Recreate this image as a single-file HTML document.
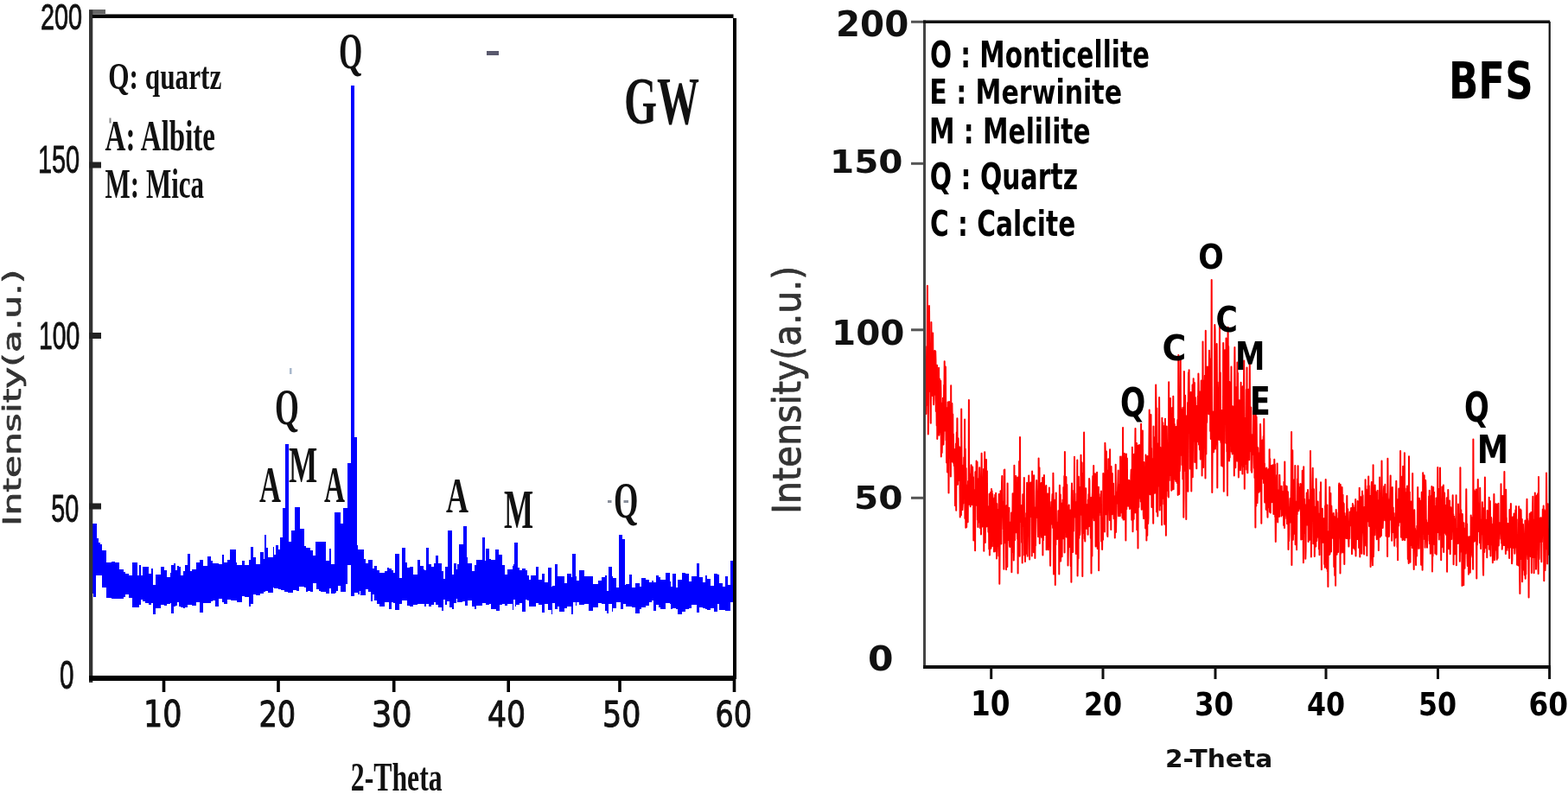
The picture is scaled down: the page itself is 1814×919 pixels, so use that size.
<!DOCTYPE html>
<html><head><meta charset="utf-8"><title>XRD patterns GW and BFS</title>
<style>html,body{margin:0;padding:0;background:#fff;width:1814px;height:919px;overflow:hidden}svg{display:block}</style></head>
<body>
<svg width="1814" height="919" viewBox="0 0 1814 919">
<rect width="1814" height="919" fill="#fff"/>
<path d="M106.5,606.0V606.0H107.0V606.0H108.0V606.0H111.0V606.0H112.0V623.3H114.0V627.8H116.0V629.7H118.0V637.1H123.0V651.2H129.0V650.0H133.0V650.7H138.0V659.2H143.0V662.4H145.0V663.9H149.0V665.5H153.0V650.9H159.0V665.9H160.5V654.4H162.5V665.6H164.5V655.5H167.5V656.4H171.5V664.1H174.5V658.4H176.5V676.6H179.5V665.1H185.5V656.1H189.5V659.7H192.5V667.6H196.5V663.2H198.0V654.0H201.0V652.2H203.0V660.0H205.0V655.3H207.0V655.6H209.0V666.2H212.0V661.0H214.0V654.3H217.0V641.0H220.0V660.7H222.0V658.7H227.0V650.7H231.0V647.5H235.0V655.2H240.0V643.7H244.0V648.6H246.0V652.2H249.0V651.8H253.0V653.2H257.0V642.4H259.0V651.0H263.0V647.7H266.0V636.0H267.0V636.0H271.0V636.0H273.0V651.0H274.0V653.8H280.0V648.5H283.0V654.0H288.0V648.3H290.0V633.1H293.0V645.3H296.0V652.5H301.0V639.3H305.0V647.2H305.5V619.0H306.5V619.0H308.0V633.9H309.5V645.2H315.5V633.3H317.0V641.8H319.0V630.7H322.0V636.0H324.0V622.0H325.0V622.0H327.0V588.0H328.0V588.0H329.0V588.0H330.0V514.0H333.0V514.0H333.5V627.0H337.0V614.0H339.0V614.0H341.0V587.0H343.0V587.0H346.0V587.0H347.0V612.0H352.0V631.9H354.0V633.6H355.5V633.9H358.5V636.5H361.5V642.9H365.0V627.0H365.5V627.0H368.5V627.0H370.5V627.0H376.5V627.0H377.0V648.5H380.5V635.2H382.5V652.8H387.0V593.0H387.5V593.0H389.0V593.0H391.0V593.0H394.0V606.0H397.0V588.0H400.0V588.0H402.0V536.0H405.0V536.0H406.0V99.0H409.0V99.0H410.0V506.0H413.0V630.6H414.0V636.0H415.5V636.0H417.0V636.0H421.0V646.8H423.0V652.4H426.0V647.9H429.0V647.6H431.0V658.3H433.0V654.9H436.0V660.3H439.0V662.5H445.0V660.8H448.0V657.3H450.0V657.7H453.0V659.5H455.0V662.5H456.5V640.6H461.5V668.5H464.5V650.8H465.0V634.0H469.0V650.8H470.5V656.5H473.5V655.8H477.5V664.6H482.5V648.4H485.5V655.2H489.5V658.8H491.0V660.3H492.5V634.4H495.5V652.9H498.5V655.8H501.5V651.5H503.5V643.4H506.5V652.4H510.5V660.6H512.5V670.1H514.5V655.9H516.5V656.0H518.0V614.0H519.5V614.0H522.5V614.0H523.0V665.0H524.5V652.0H527.5V659.0H529.0V652.6H531.0V630.0H535.0V630.0H536.0V609.0H538.0V609.0H539.5V644.9H541.0V651.5H546.0V660.9H549.0V654.4H551.0V648.2H556.0V648.3H557.5V649.0H558.0V622.0H561.0V649.0H561.5V635.4H565.5V646.9H567.5V648.4H573.0V636.0H573.5V636.0H577.0V642.4H577.5V642.0H580.5V654.3H583.5V664.8H586.5V659.2H592.5V655.3H594.0V652.5H595.0V628.0H595.5V628.0H597.0V628.0H599.0V657.3H601.0V659.6H604.0V657.9H608.0V660.4H609.5V665.9H611.5V670.5H613.5V666.4H619.5V656.0H622.5V670.8H626.5V663.6H629.5V673.5H633.5V656.5H637.5V678.7H639.0V678.2H642.0V652.7H645.0V667.1H646.5V667.3H652.5V675.2H655.5V663.8H660.5V667.8H662.0V641.0H662.5V641.0H665.5V667.3H667.0V671.5H670.0V659.5H676.0V667.1H681.0V666.8H686.0V675.8H692.0V671.6H696.0V667.5H700.0V666.0H702.0V683.5H703.5V655.6H707.5V666.9H709.0V669.1H713.0V679.5H716.0V619.0H718.0V619.0H720.0V624.0H721.0V624.0H723.0V677.1H724.0V676.2H728.0V665.3H731.0V679.6H735.0V675.2H740.0V679.3H742.0V669.4H747.0V671.2H751.0V673.7H754.0V672.4H755.5V674.2H758.5V666.3H761.5V667.8H763.5V670.7H769.5V662.8H774.5V672.8H776.0V678.7H778.0V664.0H782.0V679.5H784.0V671.4H789.0V662.7H793.0V663.5H797.0V673.0H800.0V666.8H806.0V652.4H809.0V668.2H813.0V673.6H816.0V666.4H818.0V669.5H822.0V677.9H826.0V663.6H830.0V664.7H832.0V674.8H836.0V679.3H839.0V667.3H842.0V677.1H845.0V649.0H848.0V697.2H845.0V706.9H842.0V707.0H839.0V705.7H836.0V705.6H832.0V699.1H830.0V708.4H826.0V703.5H822.0V705.9H818.0V704.6H816.0V703.5H813.0V703.0H809.0V708.8H806.0V700.3H800.0V704.4H797.0V704.9H793.0V708.4H789.0V711.2H784.0V704.5H782.0V704.1H778.0V704.7H776.0V698.6H774.5V698.1H769.5V705.3H763.5V702.6H761.5V699.5H758.5V706.7H755.5V695.1H754.0V697.3H751.0V700.5H747.0V703.1H742.0V705.0H740.0V710.4H735.0V702.9H731.0V701.7H728.0V702.2H724.0V699.3H723.0V699.3H721.0V704.6H720.0V704.6H718.0V696.7H716.0V696.7H713.0V703.6H709.0V708.3H707.5V698.9H703.5V710.1H702.0V706.7H700.0V698.8H696.0V698.0H692.0V703.0H686.0V707.4H681.0V698.5H676.0V700.2H670.0V696.9H667.0V700.5H665.5V697.1H662.5V710.9H662.0V710.9H660.5V702.3H655.5V703.9H652.5V707.8H646.5V701.7H645.0V704.7H642.0V697.9H639.0V710.6H637.5V706.0H633.5V698.5H629.5V709.2H626.5V699.7H622.5V697.9H619.5V701.6H613.5V701.5H611.5V695.4H609.5V693.6H608.0V708.3H604.0V698.4H601.0V700.2H599.0V700.2H597.0V702.4H595.5V693.8H595.0V693.8H594.0V705.6H592.5V699.1H586.5V701.1H583.5V699.0H580.5V700.0H577.5V707.1H577.0V707.1H573.5V704.9H573.0V704.9H567.5V699.1H565.5V699.7H561.5V697.8H561.0V697.8H558.0V697.8H557.5V701.1H556.0V701.4H551.0V704.7H549.0V701.5H546.0V694.6H541.0V700.7H539.5V700.7H538.0V695.6H536.0V695.6H535.0V697.0H531.0V697.0H529.0V693.0H527.5V698.2H524.5V705.4H523.0V705.4H522.5V702.8H519.5V696.1H518.0V696.1H516.5V700.3H514.5V693.6H512.5V706.7H510.5V702.6H506.5V699.7H503.5V697.1H501.5V699.8H498.5V702.1H495.5V698.5H492.5V702.2H491.0V698.9H489.5V699.4H485.5V699.2H482.5V699.9H477.5V702.2H473.5V700.6H470.5V695.1H469.0V695.1H465.0V695.1H464.5V698.6H461.5V706.2H456.5V698.3H455.0V696.8H453.0V705.2H450.0V696.7H448.0V696.9H445.0V701.5H439.0V699.3H436.0V694.8H433.0V687.8H431.0V696.4H429.0V685.3H426.0V681.7H423.0V688.6H421.0V688.6H417.0V684.2H415.5V688.4H414.0V686.3H413.0V686.3H410.0V690.0H409.0V690.0H406.0V654.0H405.0V654.0H402.0V675.7H400.0V685.1H397.0V685.1H394.0V678.2H391.0V684.2H389.0V686.2H387.5V686.7H387.0V686.7H382.5V680.6H380.5V686.7H377.0V686.7H376.5V685.2H370.5V683.7H368.5V681.8H365.5V675.2H365.0V675.2H361.5V685.0H358.5V684.1H355.5V685.0H354.0V679.5H352.0V679.4H347.0V679.4H346.0V684.3H343.0V683.2H341.0V683.2H339.0V685.7H337.0V685.7H333.5V685.7H333.0V685.0H330.0V685.0H329.0V682.8H328.0V682.8H327.0V682.8H325.0V682.0H324.0V682.0H322.0V681.4H319.0V680.6H317.0V679.6H315.5V686.0H309.5V683.8H308.0V683.8H306.5V684.8H305.5V684.8H305.0V686.6H301.0V688.6H296.0V688.3H293.0V699.4H290.0V701.5H288.0V690.8H283.0V689.7H280.0V696.7H274.0V694.8H273.0V694.8H271.0V695.3H267.0V693.9H266.0V693.9H263.0V699.3H259.0V696.6H257.0V693.2H253.0V702.2H249.0V694.6H246.0V695.9H244.0V698.3H240.0V697.6H235.0V709.4H231.0V696.7H227.0V701.2H222.0V699.9H220.0V699.9H217.0V703.2H214.0V704.2H212.0V703.4H209.0V701.8H207.0V696.9H205.0V700.6H203.0V702.1H201.0V709.9H198.0V698.2H196.5V699.2H192.5V700.6H189.5V700.2H185.5V704.4H179.5V711.4H176.5V698.4H174.5V699.7H171.5V698.1H167.5V696.4H164.5V694.2H162.5V700.2H160.5V702.6H159.0V702.9H153.0V691.8H149.0V688.3H145.0V691.2H143.0V692.9H138.0V692.7H133.0V693.3H129.0V691.7H123.0V680.4H118.0V666.0H116.0V666.0H114.0V666.0H112.0V666.0H111.0V691.3H108.0V686.7H107.0V686.7H106.5Z" fill="#0000ff" shape-rendering="crispEdges"/>
<path d="M1070.5,400.4 1070.8,460.5 1071.1,417.6 1071.4,479.1 1071.7,443.4 1072.0,434.0 1072.3,446.4 1072.6,414.3 1072.9,330.7 1073.2,468.7 1073.5,421.2 1073.8,502.5 1074.1,483.9 1074.4,451.4 1074.7,453.4 1075.0,354.0 1075.3,408.6 1075.6,402.2 1075.9,444.0 1076.2,403.0 1076.5,416.7 1076.8,489.7 1077.1,424.4 1077.4,373.0 1077.7,416.4 1078.0,425.8 1078.3,442.9 1078.6,457.1 1078.9,458.1 1079.2,385.5 1079.5,435.4 1079.8,458.3 1080.1,468.3 1080.4,462.0 1080.7,415.5 1081.0,456.7 1081.3,406.0 1081.6,444.9 1081.9,455.0 1082.2,406.6 1082.5,417.4 1082.8,475.9 1083.1,439.2 1083.4,462.9 1083.7,492.4 1084.0,422.7 1084.3,507.9 1084.6,495.1 1084.9,476.1 1085.2,448.8 1085.5,443.2 1085.8,452.5 1086.1,425.7 1086.4,503.7 1086.7,500.1 1087.0,438.4 1087.3,462.4 1087.6,470.7 1087.9,469.0 1088.2,440.7 1088.5,453.9 1088.8,528.4 1089.1,484.9 1089.4,466.6 1089.7,524.1 1090.0,509.2 1090.3,493.1 1090.6,481.2 1090.9,460.8 1091.2,505.2 1091.5,514.5 1091.8,500.5 1092.1,445.8 1092.4,458.2 1092.7,418.2 1093.0,466.1 1093.3,498.6 1093.6,478.0 1093.9,424.6 1094.2,474.6 1094.5,509.5 1094.8,486.9 1095.1,535.5 1095.4,493.3 1095.7,472.0 1096.0,546.6 1096.3,508.8 1096.6,465.6 1096.9,527.5 1097.2,515.2 1097.5,570.4 1097.8,510.6 1098.1,465.1 1098.4,512.0 1098.7,516.2 1099.0,530.0 1099.3,498.6 1099.6,505.9 1099.9,551.4 1100.2,446.3 1100.5,528.8 1100.8,525.9 1101.1,534.2 1101.4,467.0 1101.7,485.9 1102.0,517.0 1102.3,479.6 1102.6,534.9 1102.9,502.6 1103.2,535.9 1103.5,519.4 1103.8,539.1 1104.1,528.7 1104.4,538.7 1104.7,549.8 1105.0,585.3 1105.3,520.0 1105.6,528.4 1105.9,513.4 1106.2,590.7 1106.5,516.3 1106.8,500.6 1107.1,527.7 1107.4,484.3 1107.7,530.0 1108.0,560.7 1108.3,542.3 1108.6,507.6 1108.9,529.9 1109.2,555.9 1109.5,516.7 1109.8,543.9 1110.1,517.8 1110.4,555.5 1110.7,598.6 1111.0,526.4 1111.3,521.1 1111.6,529.3 1111.9,596.2 1112.2,473.5 1112.5,525.5 1112.8,552.2 1113.1,560.1 1113.4,590.1 1113.7,585.3 1114.0,564.0 1114.3,582.8 1114.6,538.6 1114.9,565.0 1115.2,529.5 1115.5,554.7 1115.8,531.9 1116.1,485.6 1116.4,600.1 1116.7,519.4 1117.0,568.2 1117.3,610.8 1117.6,541.9 1117.9,577.0 1118.2,609.9 1118.5,563.3 1118.8,595.3 1119.1,561.5 1119.4,566.9 1119.7,604.2 1120.0,557.0 1120.3,574.6 1120.6,571.5 1120.9,463.0 1121.2,583.7 1121.5,576.8 1121.8,566.3 1122.1,552.4 1122.4,555.7 1122.7,586.2 1123.0,548.8 1123.3,547.8 1123.6,538.2 1123.9,582.4 1124.2,558.5 1124.5,584.1 1124.8,540.6 1125.1,540.6 1125.4,551.7 1125.7,571.8 1126.0,552.2 1126.3,625.4 1126.6,610.2 1126.9,596.4 1127.2,619.2 1127.5,606.4 1127.8,567.0 1128.1,637.2 1128.4,546.3 1128.7,572.6 1129.0,584.8 1129.3,572.1 1129.6,533.4 1129.9,556.5 1130.2,572.5 1130.5,534.8 1130.8,601.4 1131.1,573.9 1131.4,609.9 1131.7,554.4 1132.0,573.3 1132.3,604.6 1132.6,599.1 1132.9,559.4 1133.2,541.2 1133.5,555.2 1133.8,611.1 1134.1,597.0 1134.4,590.4 1134.7,597.7 1135.0,618.5 1135.3,567.8 1135.6,524.8 1135.9,551.2 1136.2,609.6 1136.5,603.2 1136.8,579.6 1137.1,566.9 1137.4,574.4 1137.7,577.5 1138.0,543.0 1138.3,637.7 1138.6,556.9 1138.9,597.5 1139.2,523.2 1139.5,572.7 1139.8,628.0 1140.1,580.3 1140.4,557.3 1140.7,591.9 1141.0,531.9 1141.3,609.5 1141.6,607.8 1141.9,545.3 1142.2,602.9 1142.5,585.8 1142.8,588.6 1143.1,601.2 1143.4,615.8 1143.7,608.6 1144.0,602.9 1144.3,635.4 1144.6,571.7 1144.9,642.5 1145.2,624.4 1145.5,580.5 1145.8,611.0 1146.1,569.7 1146.4,634.7 1146.7,609.6 1147.0,566.1 1147.3,625.4 1147.6,568.2 1147.9,632.3 1148.2,571.7 1148.5,576.7 1148.8,620.0 1149.1,597.9 1149.4,588.4 1149.7,577.6 1150.0,638.6 1150.3,625.9 1150.6,576.3 1150.9,638.2 1151.2,572.8 1151.5,583.0 1151.8,600.7 1152.1,570.8 1152.4,586.1 1152.7,606.2 1153.0,646.4 1153.3,582.9 1153.6,603.4 1153.9,632.1 1154.2,608.5 1154.5,593.1 1154.8,589.8 1155.1,632.0 1155.4,643.5 1155.7,572.0 1156.0,596.9 1156.3,675.7 1156.6,640.4 1156.9,579.7 1157.2,616.4 1157.5,568.2 1157.8,587.8 1158.1,618.1 1158.4,629.5 1158.7,585.9 1159.0,560.1 1159.3,550.9 1159.6,598.0 1159.9,580.4 1160.2,586.1 1160.5,590.2 1160.8,612.5 1161.1,611.7 1161.4,658.7 1161.7,543.9 1162.0,611.2 1162.3,543.6 1162.6,609.4 1162.9,627.7 1163.2,608.6 1163.5,628.7 1163.8,593.4 1164.1,659.3 1164.4,585.2 1164.7,631.4 1165.0,617.1 1165.3,655.9 1165.6,559.4 1165.9,622.4 1166.2,613.9 1166.5,616.4 1166.8,612.4 1167.1,625.1 1167.4,587.7 1167.7,623.7 1168.0,631.5 1168.3,633.0 1168.6,611.6 1168.9,615.6 1169.2,610.0 1169.5,604.2 1169.8,631.0 1170.1,593.4 1170.4,662.3 1170.7,617.6 1171.0,631.3 1171.3,611.1 1171.6,571.3 1171.9,581.2 1172.2,639.0 1172.5,615.1 1172.8,648.4 1173.1,633.4 1173.4,538.7 1173.7,625.5 1174.0,625.1 1174.3,596.7 1174.6,615.2 1174.9,577.8 1175.2,551.0 1175.5,592.1 1175.8,610.6 1176.1,616.5 1176.4,591.1 1176.7,587.1 1177.0,623.7 1177.3,552.5 1177.6,663.4 1177.9,607.8 1178.2,599.4 1178.5,607.1 1178.8,634.7 1179.1,534.0 1179.4,560.4 1179.7,643.8 1180.0,506.0 1180.3,586.8 1180.6,584.8 1180.9,603.9 1181.2,596.1 1181.5,604.1 1181.8,584.9 1182.1,628.0 1182.4,597.9 1182.7,651.5 1183.0,602.7 1183.3,572.2 1183.6,590.2 1183.9,600.0 1184.2,590.9 1184.5,576.7 1184.8,553.0 1185.1,642.6 1185.4,599.6 1185.7,618.7 1186.0,649.9 1186.3,610.7 1186.6,625.7 1186.9,641.0 1187.2,594.0 1187.5,601.2 1187.8,587.8 1188.1,558.7 1188.4,601.8 1188.7,643.7 1189.0,561.0 1189.3,588.7 1189.6,603.5 1189.9,595.6 1190.2,550.6 1190.5,587.5 1190.8,620.9 1191.1,647.5 1191.4,579.3 1191.7,572.1 1192.0,564.7 1192.3,558.5 1192.6,583.1 1192.9,597.9 1193.2,592.2 1193.5,560.8 1193.8,643.4 1194.1,545.4 1194.4,584.4 1194.7,613.4 1195.0,567.2 1195.3,624.5 1195.6,575.9 1195.9,639.2 1196.2,550.2 1196.5,602.4 1196.8,630.8 1197.1,587.3 1197.4,646.0 1197.7,616.6 1198.0,631.4 1198.3,597.6 1198.6,598.7 1198.9,569.4 1199.2,556.1 1199.5,571.0 1199.8,579.9 1200.1,599.3 1200.4,591.1 1200.7,603.6 1201.0,621.2 1201.3,616.7 1201.6,530.6 1201.9,566.8 1202.2,583.5 1202.5,541.3 1202.8,628.9 1203.1,582.6 1203.4,614.5 1203.7,595.6 1204.0,594.6 1204.3,595.2 1204.6,559.0 1204.9,620.8 1205.2,622.1 1205.5,597.8 1205.8,607.2 1206.1,552.9 1206.4,642.5 1206.7,569.0 1207.0,625.2 1207.3,608.4 1207.6,592.9 1207.9,550.0 1208.2,577.1 1208.5,590.9 1208.8,619.0 1209.1,563.7 1209.4,574.0 1209.7,580.4 1210.0,605.3 1210.3,562.0 1210.6,636.3 1210.9,629.6 1211.2,598.2 1211.5,608.9 1211.8,575.7 1212.1,571.5 1212.4,599.2 1212.7,636.3 1213.0,603.5 1213.3,626.4 1213.6,610.1 1213.9,564.6 1214.2,623.3 1214.5,609.0 1214.8,638.9 1215.1,654.8 1215.4,621.7 1215.7,594.7 1216.0,588.2 1216.3,581.1 1216.6,606.4 1216.9,583.8 1217.2,578.8 1217.5,572.0 1217.8,578.5 1218.1,611.1 1218.4,547.8 1218.7,577.5 1219.0,664.5 1219.3,613.6 1219.6,588.3 1219.9,632.3 1220.2,578.7 1220.5,609.7 1220.8,676.9 1221.1,611.7 1221.4,630.4 1221.7,570.4 1222.0,608.7 1222.3,621.9 1222.6,608.0 1222.9,609.8 1223.2,623.9 1223.5,606.5 1223.8,604.6 1224.1,610.6 1224.4,591.2 1224.7,608.4 1225.0,594.9 1225.3,664.5 1225.6,598.9 1225.9,561.8 1226.2,601.7 1226.5,573.7 1226.8,572.4 1227.1,649.5 1227.4,633.5 1227.7,604.6 1228.0,638.6 1228.3,582.7 1228.6,644.2 1228.9,593.8 1229.2,604.9 1229.5,578.6 1229.8,590.8 1230.1,623.3 1230.4,564.1 1230.7,602.3 1231.0,590.4 1231.3,551.0 1231.6,639.4 1231.9,523.0 1232.2,610.0 1232.5,607.0 1232.8,603.2 1233.1,597.9 1233.4,552.0 1233.7,621.6 1234.0,603.4 1234.3,561.0 1234.6,596.3 1234.9,613.1 1235.2,601.2 1235.5,654.4 1235.8,636.6 1236.1,630.6 1236.4,587.0 1236.7,584.4 1237.0,633.0 1237.3,620.5 1237.6,604.2 1237.9,611.7 1238.2,590.4 1238.5,622.8 1238.8,655.3 1239.1,624.9 1239.4,673.8 1239.7,578.6 1240.0,559.4 1240.3,616.7 1240.6,567.8 1240.9,616.2 1241.2,638.9 1241.5,588.7 1241.8,595.5 1242.1,614.4 1242.4,582.4 1242.7,579.8 1243.0,528.8 1243.3,596.9 1243.6,571.3 1243.9,595.2 1244.2,598.9 1244.5,581.0 1244.8,641.0 1245.1,640.5 1245.4,622.0 1245.7,582.2 1246.0,599.3 1246.3,532.4 1246.6,666.5 1246.9,646.3 1247.2,555.5 1247.5,646.3 1247.8,551.8 1248.1,585.3 1248.4,622.8 1248.7,563.7 1249.0,585.0 1249.3,618.9 1249.6,612.1 1249.9,574.7 1250.2,596.1 1250.5,526.7 1250.8,564.5 1251.1,592.4 1251.4,592.5 1251.7,535.4 1252.0,586.6 1252.3,667.0 1252.6,565.7 1252.9,548.2 1253.2,617.0 1253.5,592.3 1253.8,597.2 1254.1,500.6 1254.4,563.4 1254.7,623.6 1255.0,621.2 1255.3,626.5 1255.6,566.4 1255.9,577.3 1256.2,565.2 1256.5,610.6 1256.8,599.5 1257.1,611.7 1257.4,584.2 1257.7,603.9 1258.0,596.2 1258.3,586.7 1258.6,618.8 1258.9,578.6 1259.2,589.2 1259.5,571.9 1259.8,609.3 1260.1,553.9 1260.4,556.3 1260.7,598.3 1261.0,590.1 1261.3,608.6 1261.6,598.9 1261.9,623.0 1262.2,576.1 1262.5,663.5 1262.8,612.4 1263.1,585.2 1263.4,643.6 1263.7,575.4 1264.0,569.5 1264.3,551.1 1264.6,599.2 1264.9,564.9 1265.2,539.0 1265.5,582.1 1265.8,602.2 1266.1,588.8 1266.4,587.3 1266.7,579.0 1267.0,548.2 1267.3,586.4 1267.6,632.6 1267.9,600.6 1268.2,602.7 1268.5,627.1 1268.8,570.1 1269.1,546.7 1269.4,625.6 1269.7,634.9 1270.0,615.7 1270.3,576.9 1270.6,617.7 1270.9,563.7 1271.2,660.2 1271.5,572.1 1271.8,588.5 1272.1,579.3 1272.4,593.1 1272.7,585.6 1273.0,576.0 1273.3,577.8 1273.6,596.5 1273.9,568.5 1274.2,626.5 1274.5,599.5 1274.8,602.9 1275.1,635.9 1275.4,609.9 1275.7,599.9 1276.0,624.7 1276.3,547.9 1276.6,586.0 1276.9,587.5 1277.2,586.3 1277.5,594.4 1277.8,575.6 1278.1,615.5 1278.4,512.7 1278.7,522.1 1279.0,595.5 1279.3,587.5 1279.6,564.8 1279.9,522.5 1280.2,567.0 1280.5,544.5 1280.8,577.7 1281.1,618.7 1281.4,620.9 1281.7,584.8 1282.0,573.6 1282.3,531.2 1282.6,545.6 1282.9,579.6 1283.2,558.9 1283.5,578.7 1283.8,602.1 1284.1,520.3 1284.4,574.7 1284.7,586.9 1285.0,551.7 1285.3,613.0 1285.6,539.9 1285.9,574.0 1286.2,565.9 1286.5,595.2 1286.8,547.9 1287.1,591.0 1287.4,569.6 1287.7,580.3 1288.0,559.8 1288.3,591.0 1288.6,600.2 1288.9,581.7 1289.2,574.5 1289.5,577.8 1289.8,622.6 1290.1,595.0 1290.4,599.8 1290.7,537.8 1291.0,616.1 1291.3,602.0 1291.6,593.2 1291.9,570.7 1292.2,569.6 1292.5,580.9 1292.8,582.5 1293.1,565.1 1293.4,557.6 1293.7,544.5 1294.0,597.2 1294.3,561.4 1294.6,591.2 1294.9,561.3 1295.2,593.8 1295.5,565.9 1295.8,597.2 1296.1,528.4 1296.4,547.5 1296.7,577.2 1297.0,593.3 1297.3,567.0 1297.6,562.9 1297.9,591.1 1298.2,528.2 1298.5,599.5 1298.8,558.9 1299.1,495.1 1299.4,597.0 1299.7,601.6 1300.0,560.5 1300.3,566.7 1300.6,601.2 1300.9,524.9 1301.2,556.0 1301.5,588.8 1301.8,570.1 1302.1,578.9 1302.4,625.4 1302.7,557.8 1303.0,525.4 1303.3,589.2 1303.6,536.3 1303.9,530.5 1304.2,582.4 1304.5,557.3 1304.8,555.6 1305.1,585.8 1305.4,571.1 1305.7,556.9 1306.0,575.5 1306.3,556.0 1306.6,568.4 1306.9,589.1 1307.2,573.0 1307.5,577.3 1307.8,557.3 1308.1,588.3 1308.4,551.6 1308.7,543.8 1309.0,576.7 1309.3,601.7 1309.6,594.4 1309.9,517.8 1310.2,547.5 1310.5,615.3 1310.8,599.1 1311.1,534.4 1311.4,574.7 1311.7,600.8 1312.0,525.7 1312.3,556.9 1312.6,593.2 1312.9,544.3 1313.2,528.2 1313.5,496.0 1313.8,593.2 1314.1,555.0 1314.4,570.4 1314.7,579.5 1315.0,513.1 1315.3,613.2 1315.6,565.7 1315.9,560.2 1316.2,589.2 1316.5,634.4 1316.8,515.7 1317.1,553.7 1317.4,587.0 1317.7,550.4 1318.0,514.9 1318.3,573.8 1318.6,549.8 1318.9,576.4 1319.2,554.9 1319.5,547.2 1319.8,580.4 1320.1,490.7 1320.4,568.1 1320.7,589.8 1321.0,521.0 1321.3,569.5 1321.6,561.6 1321.9,498.6 1322.2,588.8 1322.5,566.0 1322.8,595.6 1323.1,600.2 1323.4,535.0 1323.7,576.7 1324.0,580.2 1324.3,572.5 1324.6,549.6 1324.9,570.8 1325.2,611.5 1325.5,526.5 1325.8,535.5 1326.1,544.2 1326.4,625.6 1326.7,559.3 1327.0,528.4 1327.3,619.8 1327.6,528.1 1327.9,546.1 1328.2,605.9 1328.5,599.5 1328.8,539.2 1329.1,556.2 1329.4,516.0 1329.7,474.4 1330.0,570.4 1330.3,546.2 1330.6,572.2 1330.9,547.5 1331.2,565.3 1331.5,479.9 1331.8,545.2 1332.1,518.9 1332.4,586.9 1332.7,532.7 1333.0,558.0 1333.3,532.5 1333.6,531.1 1333.9,576.6 1334.2,605.7 1334.5,493.5 1334.8,552.1 1335.1,506.0 1335.4,510.2 1335.7,509.1 1336.0,570.8 1336.3,527.0 1336.6,562.2 1336.9,541.9 1337.2,445.6 1337.5,468.5 1337.8,525.9 1338.1,592.4 1338.4,472.5 1338.7,550.2 1339.0,528.8 1339.3,597.5 1339.6,513.8 1339.9,562.4 1340.2,518.5 1340.5,555.6 1340.8,552.5 1341.1,459.9 1341.4,510.4 1341.7,590.6 1342.0,526.2 1342.3,517.8 1342.6,539.1 1342.9,549.6 1343.2,584.9 1343.5,530.8 1343.8,548.8 1344.1,607.4 1344.4,483.7 1344.7,583.5 1345.0,549.1 1345.3,489.2 1345.6,553.2 1345.9,576.8 1346.2,507.7 1346.5,493.3 1346.8,493.3 1347.1,606.7 1347.4,590.4 1347.7,580.5 1348.0,484.7 1348.3,558.3 1348.6,502.4 1348.9,619.8 1349.2,561.6 1349.5,574.5 1349.8,493.5 1350.1,518.5 1350.4,525.1 1350.7,547.4 1351.0,567.8 1351.3,547.6 1351.6,554.4 1351.9,575.4 1352.2,442.2 1352.5,546.1 1352.8,556.1 1353.1,538.3 1353.4,532.8 1353.7,476.6 1354.0,461.1 1354.3,549.9 1354.6,537.5 1354.9,514.7 1355.2,567.8 1355.5,501.3 1355.8,566.9 1356.1,471.9 1356.4,528.4 1356.7,504.5 1357.0,496.9 1357.3,458.8 1357.6,566.2 1357.9,539.1 1358.2,484.7 1358.5,538.9 1358.8,491.1 1359.1,519.3 1359.4,538.3 1359.7,555.1 1360.0,501.2 1360.3,556.9 1360.6,494.1 1360.9,494.1 1361.2,503.5 1361.5,513.8 1361.8,559.0 1362.1,495.2 1362.4,486.1 1362.7,572.9 1363.0,523.1 1363.3,410.9 1363.6,522.1 1363.9,502.4 1364.2,571.9 1364.5,501.6 1364.8,545.1 1365.1,539.7 1365.4,455.9 1365.7,415.5 1366.0,495.2 1366.3,526.7 1366.6,471.7 1366.9,524.4 1367.2,473.7 1367.5,538.1 1367.8,480.2 1368.1,508.9 1368.4,554.6 1368.7,477.2 1369.0,471.5 1369.3,598.8 1369.6,576.1 1369.9,429.9 1370.2,490.3 1370.5,482.2 1370.8,472.1 1371.1,457.8 1371.4,515.4 1371.7,545.4 1372.0,534.0 1372.3,601.1 1372.6,481.4 1372.9,511.4 1373.2,500.0 1373.5,512.7 1373.8,535.3 1374.1,466.0 1374.4,568.8 1374.7,468.8 1375.0,431.2 1375.3,460.9 1375.6,428.3 1375.9,472.1 1376.2,500.2 1376.5,466.5 1376.8,542.6 1377.1,462.3 1377.4,501.2 1377.7,454.0 1378.0,527.1 1378.3,568.6 1378.6,489.0 1378.9,492.4 1379.2,537.6 1379.5,445.6 1379.8,552.2 1380.1,501.2 1380.4,507.1 1380.7,438.2 1381.0,510.6 1381.3,463.3 1381.6,501.9 1381.9,443.0 1382.2,535.1 1382.5,499.1 1382.8,459.9 1383.1,480.0 1383.4,470.7 1383.7,529.1 1384.0,527.7 1384.3,542.3 1384.6,469.8 1384.9,484.1 1385.2,511.2 1385.5,472.2 1385.8,458.8 1386.1,474.6 1386.4,432.6 1386.7,445.8 1387.0,514.5 1387.3,483.2 1387.6,459.5 1387.9,520.5 1388.2,453.4 1388.5,497.4 1388.8,531.6 1389.1,505.4 1389.4,466.6 1389.7,440.4 1390.0,467.9 1390.3,448.3 1390.6,550.4 1390.9,489.0 1391.2,515.3 1391.5,395.6 1391.8,470.0 1392.1,540.9 1392.4,440.4 1392.7,475.5 1393.0,469.4 1393.3,492.0 1393.6,464.6 1393.9,434.8 1394.2,522.8 1394.5,553.4 1394.8,382.7 1395.1,487.2 1395.4,525.6 1395.7,465.7 1396.0,489.4 1396.3,487.5 1396.6,429.1 1396.9,424.5 1397.2,441.1 1397.5,464.3 1397.8,470.8 1398.1,455.7 1398.4,479.3 1398.7,434.3 1399.0,405.7 1399.3,431.5 1399.6,415.2 1399.9,423.2 1400.2,498.9 1400.5,458.7 1400.8,508.1 1401.1,484.9 1401.4,420.9 1401.7,324.0 1402.0,486.5 1402.3,570.0 1402.6,528.1 1402.9,481.3 1403.2,477.7 1403.5,480.3 1403.8,476.4 1404.1,523.2 1404.4,503.3 1404.7,487.5 1405.0,442.6 1405.3,375.9 1405.6,381.8 1405.9,519.6 1406.2,513.3 1406.5,416.7 1406.8,451.9 1407.1,478.8 1407.4,490.7 1407.7,397.9 1408.0,459.5 1408.3,564.4 1408.6,442.4 1408.9,453.0 1409.2,466.7 1409.5,465.2 1409.8,478.6 1410.1,488.0 1410.4,508.9 1410.7,480.9 1411.0,372.8 1411.3,477.4 1411.6,475.9 1411.9,431.3 1412.2,509.7 1412.5,512.1 1412.8,481.5 1413.1,538.9 1413.4,494.3 1413.7,474.9 1414.0,498.0 1414.3,532.9 1414.6,539.7 1414.9,509.9 1415.2,397.0 1415.5,462.2 1415.8,568.7 1416.1,491.8 1416.4,452.4 1416.7,432.3 1417.0,405.3 1417.3,426.4 1417.6,490.3 1417.9,432.2 1418.2,512.7 1418.5,391.4 1418.8,428.2 1419.1,445.7 1419.4,522.8 1419.7,514.0 1420.0,573.5 1420.3,475.8 1420.6,378.7 1420.9,462.9 1421.2,401.1 1421.5,463.0 1421.8,471.4 1422.1,533.4 1422.4,442.0 1422.7,529.5 1423.0,464.8 1423.3,469.3 1423.6,447.9 1423.9,458.7 1424.2,484.1 1424.5,424.6 1424.8,522.7 1425.1,469.7 1425.4,481.8 1425.7,525.5 1426.0,524.0 1426.3,470.5 1426.6,489.2 1426.9,508.6 1427.2,498.7 1427.5,488.9 1427.8,550.5 1428.1,446.1 1428.4,402.0 1428.7,437.5 1429.0,487.9 1429.3,541.2 1429.6,479.7 1429.9,475.7 1430.2,491.9 1430.5,448.0 1430.8,497.1 1431.1,533.4 1431.4,419.6 1431.7,481.9 1432.0,431.7 1432.3,471.5 1432.6,490.0 1432.9,552.5 1433.2,508.8 1433.5,508.0 1433.8,463.3 1434.1,503.3 1434.4,468.1 1434.7,498.3 1435.0,544.2 1435.3,536.6 1435.6,442.8 1435.9,494.3 1436.2,512.9 1436.5,511.7 1436.8,475.8 1437.1,532.5 1437.4,548.6 1437.7,447.3 1438.0,540.0 1438.3,505.7 1438.6,489.5 1438.9,460.8 1439.2,417.6 1439.5,480.1 1439.8,565.7 1440.1,504.6 1440.4,535.9 1440.7,537.1 1441.0,483.7 1441.3,520.7 1441.6,533.6 1441.9,451.1 1442.2,543.4 1442.5,425.5 1442.8,537.4 1443.1,547.1 1443.4,547.3 1443.7,515.8 1444.0,465.2 1444.3,450.7 1444.6,514.1 1444.9,529.4 1445.2,532.3 1445.5,495.5 1445.8,419.0 1446.1,493.1 1446.4,522.2 1446.7,518.6 1447.0,495.6 1447.3,471.5 1447.6,544.8 1447.9,502.7 1448.2,546.8 1448.5,534.7 1448.8,504.5 1449.1,514.8 1449.4,507.1 1449.7,526.0 1450.0,497.0 1450.3,476.1 1450.6,482.2 1450.9,541.7 1451.2,487.6 1451.5,553.1 1451.8,487.1 1452.1,550.0 1452.4,610.4 1452.7,467.1 1453.0,500.2 1453.3,585.6 1453.6,482.5 1453.9,513.8 1454.2,524.0 1454.5,582.1 1454.8,572.7 1455.1,529.4 1455.4,518.3 1455.7,540.8 1456.0,524.3 1456.3,557.8 1456.6,569.7 1456.9,568.5 1457.2,554.3 1457.5,568.0 1457.8,523.0 1458.1,491.1 1458.4,505.6 1458.7,515.3 1459.0,546.7 1459.3,605.7 1459.6,527.9 1459.9,537.0 1460.2,515.1 1460.5,509.5 1460.8,553.8 1461.1,548.9 1461.4,554.2 1461.7,505.2 1462.0,559.1 1462.3,485.0 1462.6,549.4 1462.9,536.4 1463.2,581.5 1463.5,542.2 1463.8,547.2 1464.1,579.6 1464.4,545.1 1464.7,589.8 1465.0,558.9 1465.3,541.5 1465.6,548.5 1465.9,570.3 1466.2,591.2 1466.5,598.8 1466.8,565.2 1467.1,569.5 1467.4,543.3 1467.7,551.7 1468.0,586.5 1468.3,587.6 1468.6,520.3 1468.9,592.4 1469.2,530.9 1469.5,555.7 1469.8,593.5 1470.1,546.5 1470.4,580.8 1470.7,549.0 1471.0,539.1 1471.3,581.3 1471.6,560.3 1471.9,566.4 1472.2,581.1 1472.5,538.2 1472.8,567.6 1473.1,568.6 1473.4,594.9 1473.7,546.0 1474.0,576.2 1474.3,531.7 1474.6,584.6 1474.9,537.4 1475.2,598.2 1475.5,598.0 1475.8,626.9 1476.1,598.0 1476.4,578.4 1476.7,601.0 1477.0,550.0 1477.3,586.9 1477.6,536.4 1477.9,581.1 1478.2,604.4 1478.5,578.8 1478.8,579.7 1479.1,568.0 1479.4,567.3 1479.7,597.0 1480.0,598.0 1480.3,549.7 1480.6,562.2 1480.9,580.0 1481.2,589.2 1481.5,584.1 1481.8,563.3 1482.1,579.9 1482.4,597.6 1482.7,562.8 1483.0,579.9 1483.3,596.0 1483.6,578.0 1483.9,569.1 1484.2,593.9 1484.5,579.3 1484.8,569.4 1485.1,608.1 1485.4,557.8 1485.7,591.8 1486.0,611.1 1486.3,534.6 1486.6,600.1 1486.9,596.4 1487.2,571.6 1487.5,562.4 1487.8,582.5 1488.1,588.4 1488.4,583.2 1488.7,563.0 1489.0,606.2 1489.3,592.3 1489.6,603.0 1489.9,569.3 1490.2,579.0 1490.5,635.9 1490.8,595.3 1491.1,626.3 1491.4,618.4 1491.7,592.4 1492.0,588.0 1492.3,586.5 1492.6,576.9 1492.9,604.5 1493.2,602.5 1493.5,581.7 1493.8,558.7 1494.1,500.0 1494.4,654.0 1494.7,594.5 1495.0,575.4 1495.3,521.2 1495.6,573.6 1495.9,624.8 1496.2,608.2 1496.5,613.9 1496.8,555.6 1497.1,595.5 1497.4,617.7 1497.7,564.0 1498.0,614.6 1498.3,539.1 1498.6,630.2 1498.9,602.9 1499.2,580.5 1499.5,626.6 1499.8,598.8 1500.1,636.2 1500.4,580.5 1500.7,595.2 1501.0,554.5 1501.3,577.7 1501.6,539.2 1501.9,591.3 1502.2,560.1 1502.5,591.2 1502.8,567.6 1503.1,576.1 1503.4,580.0 1503.7,563.9 1504.0,588.7 1504.3,582.5 1504.6,559.9 1504.9,575.4 1505.2,624.4 1505.5,575.1 1505.8,568.5 1506.1,623.9 1506.4,615.2 1506.7,544.8 1507.0,623.3 1507.3,575.7 1507.6,612.5 1507.9,651.2 1508.2,540.3 1508.5,594.9 1508.8,615.5 1509.1,577.8 1509.4,617.0 1509.7,611.1 1510.0,602.4 1510.3,646.7 1510.6,636.8 1510.9,584.2 1511.2,591.9 1511.5,588.8 1511.8,570.4 1512.1,607.6 1512.4,576.7 1512.7,606.5 1513.0,567.0 1513.3,576.9 1513.6,626.9 1513.9,578.5 1514.2,615.8 1514.5,579.1 1514.8,625.0 1515.1,583.3 1515.4,599.0 1515.7,590.8 1516.0,522.0 1516.3,585.3 1516.6,590.8 1516.9,644.5 1517.2,588.1 1517.5,567.0 1517.8,568.9 1518.1,583.9 1518.4,559.4 1518.7,541.7 1519.0,586.0 1519.3,629.3 1519.6,626.1 1519.9,566.3 1520.2,616.9 1520.5,590.4 1520.8,643.9 1521.1,620.6 1521.4,624.6 1521.7,586.6 1522.0,624.6 1522.3,632.5 1522.6,554.3 1522.9,579.7 1523.2,626.0 1523.5,614.6 1523.8,622.4 1524.1,599.9 1524.4,607.7 1524.7,580.5 1525.0,603.8 1525.3,604.4 1525.6,594.6 1525.9,635.5 1526.2,609.0 1526.5,642.3 1526.8,601.4 1527.1,614.8 1527.4,569.2 1527.7,591.1 1528.0,558.3 1528.3,612.0 1528.6,615.4 1528.9,659.3 1529.2,600.0 1529.5,614.1 1529.8,588.7 1530.1,603.1 1530.4,611.6 1530.7,627.7 1531.0,614.4 1531.3,612.7 1531.6,600.4 1531.9,600.0 1532.2,652.9 1532.5,605.2 1532.8,656.7 1533.1,585.4 1533.4,592.0 1533.7,555.0 1534.0,598.9 1534.3,606.8 1534.6,623.0 1534.9,658.0 1535.2,636.6 1535.5,584.5 1535.8,661.2 1536.1,643.5 1536.4,679.0 1536.7,615.6 1537.0,618.8 1537.3,616.9 1537.6,624.4 1537.9,642.0 1538.2,563.7 1538.5,641.2 1538.8,589.4 1539.1,619.5 1539.4,570.9 1539.7,620.5 1540.0,638.5 1540.3,585.5 1540.6,593.3 1540.9,611.9 1541.2,621.7 1541.5,596.3 1541.8,611.5 1542.1,623.0 1542.4,610.1 1542.7,593.9 1543.0,609.9 1543.3,655.9 1543.6,615.1 1543.9,598.3 1544.2,666.0 1544.5,615.7 1544.8,614.0 1545.1,677.8 1545.4,598.9 1545.7,590.1 1546.0,637.5 1546.3,593.5 1546.6,641.8 1546.9,635.7 1547.2,600.3 1547.5,607.9 1547.8,620.8 1548.1,639.0 1548.4,612.3 1548.7,616.2 1549.0,561.8 1549.3,559.4 1549.6,622.6 1549.9,579.8 1550.2,577.9 1550.5,663.6 1550.8,561.0 1551.1,640.8 1551.4,627.0 1551.7,608.9 1552.0,633.4 1552.3,594.6 1552.6,564.0 1552.9,581.7 1553.2,639.6 1553.5,572.7 1553.8,637.8 1554.1,581.9 1554.4,602.9 1554.7,583.1 1555.0,620.5 1555.3,653.0 1555.6,593.9 1555.9,610.0 1556.2,600.8 1556.5,619.4 1556.8,616.8 1557.1,597.7 1557.4,622.9 1557.7,597.4 1558.0,596.5 1558.3,574.0 1558.6,606.9 1558.9,623.2 1559.2,589.2 1559.5,604.5 1559.8,610.2 1560.1,625.4 1560.4,632.6 1560.7,612.9 1561.0,613.6 1561.3,623.3 1561.6,592.5 1561.9,599.8 1562.2,600.8 1562.5,595.3 1562.8,600.3 1563.1,588.1 1563.4,608.8 1563.7,593.3 1564.0,641.3 1564.3,595.3 1564.6,635.1 1564.9,583.0 1565.2,634.0 1565.5,584.7 1565.8,596.8 1566.1,630.4 1566.4,587.4 1566.7,619.7 1567.0,634.9 1567.3,591.1 1567.6,605.6 1567.9,636.7 1568.2,578.1 1568.5,643.4 1568.8,627.0 1569.1,602.0 1569.4,593.3 1569.7,615.1 1570.0,613.8 1570.3,623.9 1570.6,580.0 1570.9,589.3 1571.2,613.9 1571.5,612.8 1571.8,595.5 1572.1,634.1 1572.4,621.1 1572.7,564.7 1573.0,627.1 1573.3,644.6 1573.6,580.2 1573.9,574.9 1574.2,580.1 1574.5,595.5 1574.8,587.0 1575.1,618.4 1575.4,640.8 1575.7,605.8 1576.0,568.6 1576.3,585.2 1576.6,573.3 1576.9,616.3 1577.2,597.6 1577.5,611.7 1577.8,621.4 1578.1,641.6 1578.4,586.9 1578.7,596.7 1579.0,616.8 1579.3,616.3 1579.6,555.3 1579.9,588.0 1580.2,631.4 1580.5,566.4 1580.8,590.4 1581.1,587.4 1581.4,643.1 1581.7,576.8 1582.0,594.2 1582.3,597.6 1582.6,562.4 1582.9,576.4 1583.2,551.5 1583.5,603.7 1583.8,562.2 1584.1,609.1 1584.4,605.6 1584.7,605.6 1585.0,597.8 1585.3,573.9 1585.6,656.1 1585.9,620.3 1586.2,591.4 1586.5,566.5 1586.8,558.0 1587.1,579.7 1587.4,586.4 1587.7,647.4 1588.0,654.2 1588.3,614.9 1588.6,538.2 1588.9,644.1 1589.2,632.4 1589.5,575.6 1589.8,591.9 1590.1,594.0 1590.4,619.2 1590.7,561.4 1591.0,579.0 1591.3,583.3 1591.6,569.0 1591.9,577.3 1592.2,589.9 1592.5,616.6 1592.8,624.2 1593.1,588.9 1593.4,591.4 1593.7,567.7 1594.0,612.0 1594.3,614.1 1594.6,579.1 1594.9,636.9 1595.2,607.7 1595.5,593.8 1595.8,614.9 1596.1,552.4 1596.4,583.4 1596.7,621.6 1597.0,612.5 1597.3,581.7 1597.6,574.3 1597.9,619.9 1598.2,586.8 1598.5,533.4 1598.8,577.1 1599.1,610.2 1599.4,607.3 1599.7,610.9 1600.0,602.7 1600.3,579.6 1600.6,592.9 1600.9,567.4 1601.2,562.9 1601.5,563.1 1601.8,592.5 1602.1,602.3 1602.4,560.7 1602.7,601.2 1603.0,579.4 1603.3,571.4 1603.6,620.5 1603.9,610.0 1604.2,591.6 1604.5,572.9 1604.8,587.1 1605.1,644.1 1605.4,530.8 1605.7,575.3 1606.0,578.8 1606.3,604.7 1606.6,590.1 1606.9,620.9 1607.2,615.1 1607.5,592.1 1607.8,578.2 1608.1,578.7 1608.4,566.3 1608.7,550.6 1609.0,601.6 1609.3,576.4 1609.6,571.9 1609.9,592.9 1610.2,625.7 1610.5,611.6 1610.8,563.9 1611.1,600.9 1611.4,610.2 1611.7,587.6 1612.0,615.9 1612.3,602.0 1612.6,594.1 1612.9,613.9 1613.2,631.7 1613.5,605.4 1613.8,601.0 1614.1,599.1 1614.4,622.4 1614.7,614.8 1615.0,572.2 1615.3,556.7 1615.6,580.6 1615.9,586.3 1616.2,589.6 1616.5,632.9 1616.8,593.7 1617.1,648.3 1617.4,578.1 1617.7,602.1 1618.0,608.4 1618.3,565.5 1618.6,580.8 1618.9,604.5 1619.2,593.2 1619.5,573.7 1619.8,579.5 1620.1,522.0 1620.4,604.1 1620.7,601.4 1621.0,621.7 1621.3,598.0 1621.6,571.5 1621.9,591.7 1622.2,551.5 1622.5,625.1 1622.8,617.8 1623.1,539.8 1623.4,624.2 1623.7,584.5 1624.0,600.8 1624.3,584.2 1624.6,597.9 1624.9,524.2 1625.2,625.3 1625.5,620.5 1625.8,607.4 1626.1,570.4 1626.4,620.3 1626.7,595.2 1627.0,622.1 1627.3,565.6 1627.6,582.1 1627.9,562.4 1628.2,616.5 1628.5,613.5 1628.8,647.1 1629.1,627.6 1629.4,645.3 1629.7,651.9 1630.0,528.3 1630.3,635.7 1630.6,599.3 1630.9,569.6 1631.2,642.9 1631.5,650.7 1631.8,593.1 1632.1,608.0 1632.4,630.9 1632.7,580.5 1633.0,591.2 1633.3,588.3 1633.6,595.7 1633.9,633.9 1634.2,548.0 1634.5,619.9 1634.8,594.0 1635.1,598.5 1635.4,633.9 1635.7,659.1 1636.0,605.1 1636.3,590.2 1636.6,614.2 1636.9,611.4 1637.2,613.4 1637.5,619.5 1637.8,635.0 1638.1,653.9 1638.4,617.9 1638.7,641.7 1639.0,643.5 1639.3,608.8 1639.6,635.4 1639.9,597.7 1640.2,564.0 1640.5,597.9 1640.8,612.2 1641.1,601.8 1641.4,613.1 1641.7,634.7 1642.0,576.7 1642.3,619.3 1642.6,610.5 1642.9,609.2 1643.2,579.8 1643.5,586.1 1643.8,625.8 1644.1,653.8 1644.4,632.0 1644.7,569.7 1645.0,625.5 1645.3,605.9 1645.6,659.8 1645.9,631.9 1646.2,547.2 1646.5,600.5 1646.8,618.1 1647.1,567.5 1647.4,609.7 1647.7,550.3 1648.0,624.3 1648.3,609.3 1648.6,633.8 1648.9,623.6 1649.2,556.1 1649.5,567.7 1649.8,609.0 1650.1,602.0 1650.4,625.3 1650.7,615.2 1651.0,633.8 1651.3,626.4 1651.6,625.6 1651.9,605.1 1652.2,617.3 1652.5,607.6 1652.8,598.1 1653.1,574.6 1653.4,618.1 1653.7,567.8 1654.0,629.2 1654.3,594.2 1654.6,622.9 1654.9,640.8 1655.2,629.6 1655.5,611.3 1655.8,573.7 1656.1,581.7 1656.4,563.0 1656.7,569.0 1657.0,661.5 1657.3,636.0 1657.6,643.7 1657.9,576.7 1658.2,564.1 1658.5,620.8 1658.8,626.1 1659.1,569.7 1659.4,629.9 1659.7,607.2 1660.0,585.8 1660.3,640.6 1660.6,620.8 1660.9,587.6 1661.2,630.1 1661.5,576.6 1661.8,641.7 1662.1,615.2 1662.4,606.5 1662.7,611.0 1663.0,590.8 1663.3,541.1 1663.6,602.3 1663.9,616.2 1664.2,565.8 1664.5,587.7 1664.8,624.5 1665.1,598.4 1665.4,578.6 1665.7,618.9 1666.0,541.6 1666.3,581.4 1666.6,580.7 1666.9,588.3 1667.2,648.2 1667.5,588.2 1667.8,622.7 1668.1,600.4 1668.4,563.4 1668.7,619.4 1669.0,603.7 1669.3,633.5 1669.6,602.8 1669.9,561.5 1670.2,638.9 1670.5,590.6 1670.8,596.0 1671.1,570.5 1671.4,610.5 1671.7,613.2 1672.0,616.7 1672.3,585.0 1672.6,597.8 1672.9,618.8 1673.2,613.6 1673.5,611.0 1673.8,576.3 1674.1,661.7 1674.4,585.5 1674.7,611.8 1675.0,621.7 1675.3,566.9 1675.6,583.8 1675.9,617.3 1676.2,635.3 1676.5,627.6 1676.8,632.5 1677.1,579.5 1677.4,622.0 1677.7,641.2 1678.0,623.3 1678.3,587.2 1678.6,618.4 1678.9,608.7 1679.2,624.0 1679.5,609.0 1679.8,615.0 1680.1,593.4 1680.4,586.3 1680.7,573.3 1681.0,606.9 1681.3,595.2 1681.6,653.3 1681.9,616.2 1682.2,597.8 1682.5,628.0 1682.8,612.5 1683.1,618.2 1683.4,641.2 1683.7,600.7 1684.0,602.7 1684.3,628.9 1684.6,573.3 1684.9,654.3 1685.2,611.9 1685.5,623.0 1685.8,624.0 1686.1,614.1 1686.4,617.1 1686.7,629.0 1687.0,583.5 1687.3,610.0 1687.6,614.6 1687.9,595.6 1688.2,624.2 1688.5,595.2 1688.8,649.7 1689.1,625.9 1689.4,541.3 1689.7,623.8 1690.0,624.1 1690.3,590.2 1690.6,638.4 1690.9,637.8 1691.2,617.4 1691.5,678.0 1691.8,594.9 1692.1,608.2 1692.4,630.1 1692.7,625.7 1693.0,655.7 1693.3,677.2 1693.6,605.3 1693.9,636.3 1694.2,611.5 1694.5,657.7 1694.8,636.4 1695.1,621.5 1695.4,640.7 1695.7,621.9 1696.0,611.8 1696.3,566.2 1696.6,608.2 1696.9,630.3 1697.2,606.6 1697.5,645.5 1697.8,655.0 1698.1,638.5 1698.4,642.9 1698.7,621.6 1699.0,664.7 1699.3,627.0 1699.6,621.8 1699.9,630.5 1700.2,622.1 1700.5,620.9 1700.8,662.8 1701.1,638.6 1701.4,643.0 1701.7,596.4 1702.0,626.6 1702.3,605.9 1702.6,599.0 1702.9,605.9 1703.2,623.8 1703.5,644.7 1703.8,628.4 1704.1,658.8 1704.4,508.5 1704.7,609.5 1705.0,605.4 1705.3,567.3 1705.6,626.8 1705.9,611.4 1706.2,626.0 1706.5,568.9 1706.8,619.7 1707.1,623.7 1707.4,588.1 1707.7,566.5 1708.0,619.1 1708.3,669.5 1708.6,578.9 1708.9,630.7 1709.2,611.6 1709.5,591.5 1709.8,555.1 1710.1,599.5 1710.4,615.1 1710.7,613.3 1711.0,606.4 1711.3,583.3 1711.6,602.5 1711.9,628.2 1712.2,564.8 1712.5,586.1 1712.8,627.8 1713.1,635.0 1713.4,617.3 1713.7,615.3 1714.0,601.5 1714.3,602.3 1714.6,618.2 1714.9,581.3 1715.2,596.0 1715.5,620.6 1715.8,656.0 1716.1,665.8 1716.4,628.4 1716.7,588.2 1717.0,623.2 1717.3,639.0 1717.6,616.7 1717.9,552.5 1718.2,634.3 1718.5,633.6 1718.8,619.5 1719.1,610.3 1719.4,616.4 1719.7,620.6 1720.0,601.5 1720.3,645.2 1720.6,591.0 1720.9,628.9 1721.2,620.2 1721.5,630.1 1721.8,625.8 1722.1,603.6 1722.4,610.0 1722.7,575.7 1723.0,635.8 1723.3,605.5 1723.6,592.9 1723.9,580.0 1724.2,610.3 1724.5,643.6 1724.8,621.9 1725.1,598.9 1725.4,618.9 1725.7,630.2 1726.0,606.7 1726.3,630.0 1726.6,611.1 1726.9,651.2 1727.2,629.0 1727.5,612.1 1727.8,600.5 1728.1,598.5 1728.4,572.0 1728.7,591.7 1729.0,648.3 1729.3,614.7 1729.6,636.8 1729.9,601.9 1730.2,635.4 1730.5,583.3 1730.8,610.4 1731.1,592.3 1731.4,636.7 1731.7,647.7 1732.0,583.7 1732.3,584.6 1732.6,646.0 1732.9,592.4 1733.2,594.5 1733.5,582.7 1733.8,631.5 1734.1,625.3 1734.4,614.9 1734.7,623.7 1735.0,614.0 1735.3,604.9 1735.6,606.7 1735.9,605.0 1736.2,611.7 1736.5,560.2 1736.8,613.3 1737.1,628.8 1737.4,588.7 1737.7,635.7 1738.0,633.2 1738.3,574.0 1738.6,613.0 1738.9,583.2 1739.2,614.9 1739.5,603.6 1739.8,631.1 1740.1,578.7 1740.4,545.9 1740.7,631.0 1741.0,592.7 1741.3,600.7 1741.6,616.8 1741.9,641.0 1742.2,566.7 1742.5,598.4 1742.8,599.9 1743.1,636.8 1743.4,607.3 1743.7,627.9 1744.0,619.5 1744.3,633.5 1744.6,605.9 1744.9,613.0 1745.2,629.5 1745.5,637.4 1745.8,608.9 1746.1,646.0 1746.4,589.9 1746.7,598.2 1747.0,633.7 1747.3,632.4 1747.6,595.1 1747.9,582.9 1748.2,628.3 1748.5,621.9 1748.8,600.7 1749.1,652.2 1749.4,647.8 1749.7,600.4 1750.0,598.5 1750.3,634.3 1750.6,629.6 1750.9,625.8 1751.2,611.6 1751.5,594.5 1751.8,604.7 1752.1,630.9 1752.4,640.8 1752.7,635.2 1753.0,633.6 1753.3,590.5 1753.6,605.7 1753.9,586.0 1754.2,603.1 1754.5,624.6 1754.8,601.2 1755.1,653.8 1755.4,632.3 1755.7,620.6 1756.0,634.8 1756.3,642.7 1756.6,654.5 1756.9,620.5 1757.2,586.2 1757.5,642.5 1757.8,602.4 1758.1,662.0 1758.4,687.0 1758.7,651.6 1759.0,589.6 1759.3,611.5 1759.6,590.6 1759.9,605.4 1760.2,646.9 1760.5,646.7 1760.8,601.1 1761.1,673.3 1761.4,645.5 1761.7,615.1 1762.0,607.1 1762.3,619.8 1762.6,643.5 1762.9,656.4 1763.2,660.0 1763.5,644.4 1763.8,665.4 1764.1,632.6 1764.4,602.5 1764.7,669.8 1765.0,632.5 1765.3,664.4 1765.6,605.4 1765.9,637.2 1766.2,602.4 1766.5,577.8 1766.8,610.6 1767.1,600.8 1767.4,641.7 1767.7,647.1 1768.0,635.9 1768.3,627.3 1768.6,691.6 1768.9,620.9 1769.2,602.8 1769.5,607.6 1769.8,594.6 1770.1,630.0 1770.4,615.5 1770.7,643.9 1771.0,634.9 1771.3,593.1 1771.6,624.9 1771.9,662.9 1772.2,607.8 1772.5,621.4 1772.8,644.9 1773.1,587.2 1773.4,574.7 1773.7,631.1 1774.0,611.4 1774.3,601.5 1774.6,663.3 1774.9,616.0 1775.2,642.3 1775.5,642.3 1775.8,570.5 1776.1,644.9 1776.4,594.4 1776.7,583.6 1777.0,658.7 1777.3,641.0 1777.6,587.5 1777.9,573.4 1778.2,618.6 1778.5,631.1 1778.8,597.4 1779.1,571.3 1779.4,656.5 1779.7,664.1 1780.0,552.0 1780.3,635.2 1780.6,646.9 1780.9,627.9 1781.2,627.3 1781.5,609.9 1781.8,599.7 1782.1,603.6 1782.4,624.8 1782.7,599.2 1783.0,603.3 1783.3,650.2 1783.6,612.1 1783.9,627.3 1784.2,612.8 1784.5,619.1 1784.8,589.4 1785.1,600.8 1785.4,619.0 1785.7,585.4 1786.0,613.8 1786.3,672.2 1786.6,590.1 1786.9,591.6 1787.2,612.7 1787.5,660.1 1787.8,652.0 1788.1,602.5 1788.4,635.3 1788.7,634.5 1789.0,547.6 1789.3,592.1 1789.6,608.0 1789.9,600.4 1790.2,652.5 1790.5,633.6 1790.8,583.2 1791.1,642.0 1791.4,613.8 1791.7,611.4" fill="none" stroke="#ff0000" stroke-width="2.0" stroke-linejoin="round"/>
<rect x="103" y="11" width="19.00" height="5.00" fill="#666"/>
<rect x="103" y="11.5" width="4.30" height="778.50" fill="#333"/>
<rect x="107" y="16.5" width="741.50" height="4.50" fill="#000"/>
<rect x="848" y="21" width="4.00" height="765.00" fill="#000"/>
<rect x="103" y="782" width="747.00" height="6.00" fill="#000"/>
<rect x="103" y="187.5" width="14.00" height="7.00" fill="#222"/>
<rect x="103" y="385.0" width="14.00" height="7.00" fill="#222"/>
<rect x="103" y="582.5" width="14.00" height="7.00" fill="#222"/>
<rect x="187.7" y="786" width="3.60" height="15.00" fill="#000"/>
<rect x="320.2" y="786" width="3.60" height="15.00" fill="#000"/>
<rect x="453.9" y="786" width="3.60" height="15.00" fill="#000"/>
<rect x="586.4000000000001" y="786" width="3.60" height="15.00" fill="#000"/>
<rect x="715.2" y="786" width="3.60" height="15.00" fill="#000"/>
<rect x="847.7" y="786" width="3.60" height="15.00" fill="#000"/>
<rect x="563" y="59" width="14.00" height="5.00" fill="#5a5a6e"/>
<rect x="335" y="426" width="2.50" height="7.00" fill="#a8b8cc"/>
<rect x="703" y="579" width="4.50" height="3.00" fill="#8a909c"/>
<rect x="721.5" y="579" width="5.50" height="3.00" fill="#8a909c"/>
<rect x="126.5" y="136.5" width="2.00" height="6.00" fill="#888"/>
<rect x="1068" y="23.5" width="3.00" height="750.50" fill="#444"/>
<rect x="1068" y="23.5" width="725.00" height="3.50" fill="#111"/>
<rect x="1791.6" y="25" width="2.20" height="749.00" fill="#111"/>
<rect x="1068" y="770" width="726.00" height="4.00" fill="#111"/>
<rect x="1054" y="23.8" width="14.00" height="3.00" fill="#555"/>
<rect x="1054" y="187.8" width="14.00" height="3.00" fill="#555"/>
<rect x="1054" y="380.3" width="14.00" height="3.00" fill="#555"/>
<rect x="1054" y="574.8" width="14.00" height="3.00" fill="#555"/>
<rect x="1145.2" y="772" width="3.00" height="14.00" fill="#111"/>
<rect x="1274.5" y="772" width="3.00" height="14.00" fill="#111"/>
<rect x="1404.5" y="772" width="3.00" height="14.00" fill="#111"/>
<rect x="1532.5" y="772" width="3.00" height="14.00" fill="#111"/>
<rect x="1662.0" y="772" width="3.00" height="14.00" fill="#111"/>
<rect x="1791.1" y="772" width="3.00" height="14.00" fill="#111"/>
<text x="47.00" y="33.70" font-family="&quot;Liberation Sans&quot;, sans-serif" font-weight="400" font-size="43.17" textLength="48.09" lengthAdjust="spacingAndGlyphs" fill="#111" stroke="#111" stroke-width="0.9" stroke-linejoin="round">200</text>
<text x="43.90" y="200.00" font-family="&quot;Liberation Sans&quot;, sans-serif" font-weight="400" font-size="44.49" textLength="48.26" lengthAdjust="spacingAndGlyphs" fill="#111" stroke="#111" stroke-width="0.9" stroke-linejoin="round">150</text>
<text x="45.00" y="404.00" font-family="&quot;Liberation Sans&quot;, sans-serif" font-weight="400" font-size="44.57" textLength="47.17" lengthAdjust="spacingAndGlyphs" fill="#111" stroke="#111" stroke-width="0.9" stroke-linejoin="round">100</text>
<text x="59.20" y="604.00" font-family="&quot;Liberation Sans&quot;, sans-serif" font-weight="400" font-size="44.49" textLength="31.95" lengthAdjust="spacingAndGlyphs" fill="#111" stroke="#111" stroke-width="0.9" stroke-linejoin="round">50</text>
<text x="69.00" y="797.00" font-family="&quot;Liberation Sans&quot;, sans-serif" font-weight="400" font-size="45.99" textLength="16.44" lengthAdjust="spacingAndGlyphs" fill="#111" stroke="#111" stroke-width="0.9" stroke-linejoin="round">0</text>
<text x="166.00" y="841.00" font-family="&quot;DejaVu Sans&quot;, sans-serif" font-weight="400" font-size="42.01" textLength="44.48" lengthAdjust="spacingAndGlyphs" fill="#111" stroke="#111" stroke-width="1.0" stroke-linejoin="round">10</text>
<text x="299.50" y="840.60" font-family="&quot;DejaVu Sans&quot;, sans-serif" font-weight="400" font-size="40.54" textLength="42.72" lengthAdjust="spacingAndGlyphs" fill="#111" stroke="#111" stroke-width="1.0" stroke-linejoin="round">20</text>
<text x="430.00" y="840.60" font-family="&quot;DejaVu Sans&quot;, sans-serif" font-weight="400" font-size="40.54" textLength="46.55" lengthAdjust="spacingAndGlyphs" fill="#111" stroke="#111" stroke-width="1.0" stroke-linejoin="round">30</text>
<text x="564.00" y="840.60" font-family="&quot;DejaVu Sans&quot;, sans-serif" font-weight="400" font-size="40.54" textLength="44.07" lengthAdjust="spacingAndGlyphs" fill="#111" stroke="#111" stroke-width="1.0" stroke-linejoin="round">40</text>
<text x="697.10" y="840.60" font-family="&quot;DejaVu Sans&quot;, sans-serif" font-weight="400" font-size="40.54" textLength="44.35" lengthAdjust="spacingAndGlyphs" fill="#111" stroke="#111" stroke-width="1.0" stroke-linejoin="round">50</text>
<text x="827.60" y="840.60" font-family="&quot;DejaVu Sans&quot;, sans-serif" font-weight="400" font-size="40.54" textLength="42.37" lengthAdjust="spacingAndGlyphs" fill="#111" stroke="#111" stroke-width="1.0" stroke-linejoin="round">60</text>
<text x="125.20" y="103.10" font-family="&quot;Liberation Serif&quot;, serif" font-weight="700" font-size="44.63" textLength="131.14" lengthAdjust="spacingAndGlyphs" fill="#111">Q: quartz</text>
<text x="121.60" y="173.60" font-family="&quot;Liberation Serif&quot;, serif" font-weight="700" font-size="49.71" textLength="127.41" lengthAdjust="spacingAndGlyphs" fill="#111">A: Albite</text>
<text x="121.60" y="229.00" font-family="&quot;Liberation Serif&quot;, serif" font-weight="700" font-size="47.58" textLength="114.51" lengthAdjust="spacingAndGlyphs" fill="#111">M: Mica</text>
<text x="722.00" y="143.00" font-family="&quot;Liberation Serif&quot;, serif" font-weight="700" font-size="78.02" textLength="87.11" lengthAdjust="spacingAndGlyphs" fill="#111">GW</text>
<text x="392.00" y="79.00" font-family="&quot;Liberation Serif&quot;, serif" font-weight="700" font-size="59.57" textLength="27.32" lengthAdjust="spacingAndGlyphs" fill="#111">Q</text>
<text x="318.00" y="491.00" font-family="&quot;Liberation Serif&quot;, serif" font-weight="700" font-size="59.60" textLength="27.88" lengthAdjust="spacingAndGlyphs" fill="#111">Q</text>
<text x="300.00" y="581.00" font-family="&quot;Liberation Serif&quot;, serif" font-weight="700" font-size="58.68" textLength="25.00" lengthAdjust="spacingAndGlyphs" fill="#111">A</text>
<text x="334.00" y="558.00" font-family="&quot;Liberation Serif&quot;, serif" font-weight="700" font-size="58.68" textLength="33.14" lengthAdjust="spacingAndGlyphs" fill="#111">M</text>
<text x="375.00" y="581.00" font-family="&quot;Liberation Serif&quot;, serif" font-weight="700" font-size="58.68" textLength="24.00" lengthAdjust="spacingAndGlyphs" fill="#111">A</text>
<text x="516.00" y="593.00" font-family="&quot;Liberation Serif&quot;, serif" font-weight="700" font-size="57.30" textLength="26.00" lengthAdjust="spacingAndGlyphs" fill="#111">A</text>
<text x="583.00" y="611.00" font-family="&quot;Liberation Serif&quot;, serif" font-weight="700" font-size="63.05" textLength="34.13" lengthAdjust="spacingAndGlyphs" fill="#111">M</text>
<text x="710.00" y="599.00" font-family="&quot;Liberation Serif&quot;, serif" font-weight="700" font-size="59.55" textLength="28.41" lengthAdjust="spacingAndGlyphs" fill="#111">Q</text>
<text x="405.80" y="914.50" font-family="&quot;Liberation Serif&quot;, serif" font-weight="700" font-size="45.77" textLength="105.87" lengthAdjust="spacingAndGlyphs" fill="#111">2-Theta</text>
<text transform="translate(24.00,609.00) rotate(-90)" font-family="&quot;DejaVu Sans&quot;, sans-serif" font-weight="400" font-size="28.30" textLength="297.17" lengthAdjust="spacingAndGlyphs" fill="#333" stroke="#333" stroke-width="0.7" stroke-linejoin="round">Intensity(a.u.)</text>
<text x="967.00" y="42.00" font-family="&quot;DejaVu Sans&quot;, sans-serif" font-weight="700" font-size="40.63" textLength="84.34" lengthAdjust="spacingAndGlyphs" fill="#111">200</text>
<text x="960.00" y="200.00" font-family="&quot;DejaVu Sans&quot;, sans-serif" font-weight="700" font-size="37.89" textLength="84.51" lengthAdjust="spacingAndGlyphs" fill="#111">150</text>
<text x="962.00" y="398.50" font-family="&quot;DejaVu Sans&quot;, sans-serif" font-weight="700" font-size="38.49" textLength="84.53" lengthAdjust="spacingAndGlyphs" fill="#111">100</text>
<text x="988.00" y="589.00" font-family="&quot;DejaVu Sans&quot;, sans-serif" font-weight="700" font-size="37.89" textLength="56.45" lengthAdjust="spacingAndGlyphs" fill="#111">50</text>
<text x="1004.00" y="776.00" font-family="&quot;DejaVu Sans&quot;, sans-serif" font-weight="700" font-size="39.18" textLength="29.59" lengthAdjust="spacingAndGlyphs" fill="#111">0</text>
<text x="1123.00" y="827.50" font-family="&quot;DejaVu Sans&quot;, sans-serif" font-weight="700" font-size="38.58" textLength="45.58" lengthAdjust="spacingAndGlyphs" fill="#000">10</text>
<text x="1254.00" y="827.60" font-family="&quot;DejaVu Sans&quot;, sans-serif" font-weight="700" font-size="37.58" textLength="44.24" lengthAdjust="spacingAndGlyphs" fill="#000">20</text>
<text x="1382.00" y="827.60" font-family="&quot;DejaVu Sans&quot;, sans-serif" font-weight="700" font-size="37.58" textLength="45.23" lengthAdjust="spacingAndGlyphs" fill="#000">30</text>
<text x="1512.00" y="827.60" font-family="&quot;DejaVu Sans&quot;, sans-serif" font-weight="700" font-size="37.58" textLength="44.10" lengthAdjust="spacingAndGlyphs" fill="#000">40</text>
<text x="1641.00" y="827.60" font-family="&quot;DejaVu Sans&quot;, sans-serif" font-weight="700" font-size="37.58" textLength="44.24" lengthAdjust="spacingAndGlyphs" fill="#000">50</text>
<text x="1768.50" y="827.60" font-family="&quot;DejaVu Sans&quot;, sans-serif" font-weight="700" font-size="37.58" textLength="45.71" lengthAdjust="spacingAndGlyphs" fill="#000">60</text>
<text x="1076.00" y="77.80" font-family="&quot;DejaVu Sans&quot;, sans-serif" font-weight="700" font-size="42.03" textLength="254.02" lengthAdjust="spacingAndGlyphs" fill="#000">O : Monticellite</text>
<text x="1075.20" y="120.30" font-family="&quot;DejaVu Sans&quot;, sans-serif" font-weight="700" font-size="39.66" textLength="222.86" lengthAdjust="spacingAndGlyphs" fill="#000">E : Merwinite</text>
<text x="1075.00" y="165.50" font-family="&quot;DejaVu Sans&quot;, sans-serif" font-weight="700" font-size="40.63" textLength="186.61" lengthAdjust="spacingAndGlyphs" fill="#000">M : Melilite</text>
<text x="1075.80" y="219.40" font-family="&quot;DejaVu Sans&quot;, sans-serif" font-weight="700" font-size="43.02" textLength="171.34" lengthAdjust="spacingAndGlyphs" fill="#000">Q : Quartz</text>
<text x="1076.00" y="273.20" font-family="&quot;DejaVu Sans&quot;, sans-serif" font-weight="700" font-size="41.24" textLength="168.25" lengthAdjust="spacingAndGlyphs" fill="#000">C : Calcite</text>
<text x="1676.00" y="114.00" font-family="&quot;DejaVu Sans&quot;, sans-serif" font-weight="700" font-size="58.59" textLength="97.59" lengthAdjust="spacingAndGlyphs" fill="#000">BFS</text>
<text x="1386.20" y="311.30" font-family="&quot;DejaVu Sans&quot;, sans-serif" font-weight="700" font-size="38.58" textLength="29.51" lengthAdjust="spacingAndGlyphs" fill="#000">O</text>
<text x="1406.60" y="384.00" font-family="&quot;DejaVu Sans&quot;, sans-serif" font-weight="700" font-size="40.63" textLength="25.40" lengthAdjust="spacingAndGlyphs" fill="#000">C</text>
<text x="1344.60" y="416.80" font-family="&quot;DejaVu Sans&quot;, sans-serif" font-weight="700" font-size="40.14" textLength="27.88" lengthAdjust="spacingAndGlyphs" fill="#000">C</text>
<text x="1429.00" y="428.20" font-family="&quot;DejaVu Sans&quot;, sans-serif" font-weight="700" font-size="44.70" textLength="34.41" lengthAdjust="spacingAndGlyphs" fill="#000">M</text>
<text x="1446.10" y="480.40" font-family="&quot;DejaVu Sans&quot;, sans-serif" font-weight="700" font-size="44.33" textLength="23.76" lengthAdjust="spacingAndGlyphs" fill="#000">E</text>
<text x="1296.00" y="482.00" font-family="&quot;DejaVu Sans&quot;, sans-serif" font-weight="700" font-size="46.02" textLength="29.29" lengthAdjust="spacingAndGlyphs" fill="#000">Q</text>
<text x="1694.00" y="487.70" font-family="&quot;DejaVu Sans&quot;, sans-serif" font-weight="700" font-size="47.23" textLength="28.86" lengthAdjust="spacingAndGlyphs" fill="#000">Q</text>
<text x="1708.80" y="535.70" font-family="&quot;DejaVu Sans&quot;, sans-serif" font-weight="700" font-size="44.42" textLength="36.40" lengthAdjust="spacingAndGlyphs" fill="#000">M</text>
<text x="1348.00" y="888.00" font-family="&quot;DejaVu Sans&quot;, sans-serif" font-weight="700" font-size="29.23" textLength="124.14" lengthAdjust="spacingAndGlyphs" fill="#111">2-Theta</text>
<text transform="translate(926.00,595.00) rotate(-90)" font-family="&quot;DejaVu Sans&quot;, sans-serif" font-weight="400" font-size="44.82" textLength="287.18" lengthAdjust="spacingAndGlyphs" fill="#333" stroke="#333" stroke-width="0.8" stroke-linejoin="round">Intensity(a.u.)</text>
</svg>
</body></html>
